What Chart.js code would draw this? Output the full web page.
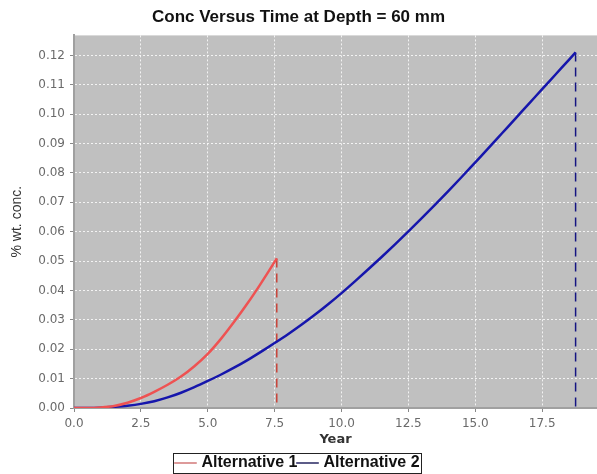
<!DOCTYPE html>
<html>
<head>
<meta charset="utf-8">
<script src="https://cdn.jsdelivr.net/npm/chart.js@4.4.1/dist/chart.umd.min.js"></script>
<style>
  html, body { margin: 0; padding: 0; background: #fff; }
</style>
</head>
<body>
<canvas id="myChart" width="597" height="474"></canvas>
<script>
// data block
const alt1Years = [0, 0.5, 1.0, 1.5, 2.0, 2.5, 3.0, 3.5, 4.0, 4.5, 5.0, 5.5, 6.0, 6.5, 7.0, 7.58];
const alt1Conc  = [0, 0, 0.0002, 0.0007, 0.0018, 0.0034, 0.0055, 0.0079, 0.0107, 0.0142, 0.0184, 0.0236, 0.0295, 0.0358, 0.0426, 0.0509];

const alt2Years = [0, 0.5, 1.0, 1.5, 2.0, 2.5, 3.0, 3.5, 4.0, 4.5, 5.0, 5.5, 6.0, 6.5, 7.0, 7.5, 8.0, 8.5, 9.0, 9.5,
                   10.0, 10.5, 11.0, 11.5, 12.0, 12.5, 13.0, 13.5, 14.0, 14.5, 15.0, 15.5, 16.0, 16.5, 17.0, 17.5, 18.0, 18.5, 18.75];
const alt2Conc  = [0, 0, 0.0001, 0.0004, 0.0008, 0.0014, 0.0023, 0.0036, 0.0052, 0.0071, 0.0092, 0.0114, 0.0138, 0.0164, 0.0192, 0.0221, 0.0251, 0.0283, 0.0317, 0.0353,
                   0.0391, 0.0431, 0.0472, 0.0514, 0.0557, 0.0601, 0.0646, 0.0692, 0.0739, 0.0787, 0.0836, 0.0885, 0.0935, 0.0985, 0.1035, 0.1085, 0.1135, 0.1185, 0.121];

const seriesNames = ['Alternative 1', 'Alternative 2'];
const xTickStep = 2.5;
const yTickStep = 0.01;

function toPoints(xs, ys) {
    return xs.map((x, i) => ({ x: x, y: ys[i] }));
}

// drop line from the last point of a series down to zero
function dropLine(xs, ys) {
    const last = xs.length - 1;
    return [{ x: xs[last], y: ys[last] }, { x: xs[last], y: 0 }];
}

const plotBackground = {
    id: 'plotBackground',
    beforeDraw(chart) {
        const { ctx, chartArea } = chart;
        ctx.save();
        ctx.fillStyle = '#c0c0c0';
        ctx.fillRect(chartArea.left, chartArea.top, chartArea.right - chartArea.left, chartArea.bottom - chartArea.top);
        ctx.restore();
    }
};

const legendBorder = {
    id: 'legendBorder',
    afterDraw(chart) {
        const boxes = chart.legend.legendHitBoxes;
        if (!boxes || !boxes.length) return;
        const left = Math.min(...boxes.map(b => b.left)) - 4;
        const right = Math.max(...boxes.map(b => b.left + b.width)) + 2;
        const top = Math.min(...boxes.map(b => b.top)) - 2;
        const bottom = Math.max(...boxes.map(b => b.top + b.height)) + 2;
        const ctx = chart.ctx;
        ctx.save();
        ctx.strokeStyle = '#222';
        ctx.lineWidth = 1;
        ctx.strokeRect(Math.round(left) + 0.5, Math.round(top) + 0.5, Math.round(right - left), Math.round(bottom - top));
        ctx.restore();
    }
};

const legendColors = ['#dd9a9a', '#5c5c88'];

const ctx = document.getElementById('myChart').getContext('2d');
const myChart = new Chart(ctx, {
    type: 'line',
    data: {
        datasets: [{
            label: seriesNames[0],
            data: toPoints(alt1Years, alt1Conc),
            borderColor: 'rgb(238, 82, 82)',
            borderWidth: 2.5,
            pointRadius: 0,
            cubicInterpolationMode: 'monotone'
        }, {
            label: seriesNames[1],
            data: toPoints(alt2Years, alt2Conc),
            borderColor: 'rgb(22, 22, 172)',
            borderWidth: 2.5,
            pointRadius: 0,
            cubicInterpolationMode: 'monotone'
        }, {
            label: 'drop1',
            data: dropLine(alt1Years, alt1Conc),
            borderColor: 'rgb(200, 70, 60)',
            borderWidth: 1.5,
            borderDash: [9, 6],
            pointRadius: 0
        }, {
            label: 'drop2',
            data: dropLine(alt2Years, alt2Conc),
            borderColor: 'rgb(20, 20, 130)',
            borderWidth: 1.5,
            borderDash: [9, 6],
            pointRadius: 0
        }]
    },
    options: {
        responsive: false,
        animation: false,
        parsing: false,
        layout: { padding: { left: 0, right: 0, top: 0, bottom: -7 } },
        plugins: {
            title: {
                display: true,
                text: 'Conc Versus Time at Depth = 60 mm',
                color: '#111',
                font: { family: 'Liberation Sans, Arial, sans-serif', size: 17, weight: 'bold' },
                padding: { top: 7, bottom: 8 }
            },
            legend: {
                position: 'bottom',
                labels: {
                    color: '#111',
                    font: { family: 'Liberation Sans Narrow, Liberation Sans, Arial, sans-serif', size: 16, weight: 'bold' },
                    usePointStyle: true,
                    pointStyle: 'line',
                    boxWidth: 16,
                    padding: 2,
                    filter: item => item.datasetIndex < 2,
                    generateLabels(chart) {
                        const items = Chart.defaults.plugins.legend.labels.generateLabels(chart);
                        items.forEach(it => {
                            if (it.datasetIndex < 2) {
                                it.strokeStyle = legendColors[it.datasetIndex];
                                it.lineWidth = 2;
                            }
                        });
                        return items;
                    }
                }
            },
            tooltip: { enabled: false }
        },
        scales: {
            x: {
                type: 'linear',
                min: 0,
                max: 19.55,
                afterFit(scale) { scale.height = 45; },
                title: {
                    display: true,
                    text: 'Year',
                    color: '#333',
                    font: { family: 'DejaVu Sans, sans-serif', size: 13, weight: 'bold' },
                    padding: { top: 0, bottom: 6 }
                },
                ticks: {
                    stepSize: xTickStep,
                    includeBounds: false,
                    maxRotation: 0,
                    color: '#6a6a6a',
                    font: { family: 'DejaVu Sans, sans-serif', size: 12 },
                    padding: 5,
                    callback: v => v.toFixed(1)
                },
                grid: {
                    color: 'rgba(255,255,255,0.8)',
                    lineWidth: 1,
                    tickLength: 4,
                    tickColor: '#888'
                },
                border: { display: true, color: '#a0a0a0', width: 2, dash: [2, 2] }
            },
            y: {
                type: 'linear',
                min: 0,
                max: 0.1268,
                afterFit(scale) { scale.width = 74; },
                title: {
                    display: true,
                    text: '% wt. conc.',
                    color: '#333',
                    font: { family: 'Liberation Sans, Arial, sans-serif', size: 14 },
                    padding: { top: 9, bottom: 0 }
                },
                ticks: {
                    stepSize: yTickStep,
                    includeBounds: false,
                    color: '#6a6a6a',
                    font: { family: 'DejaVu Sans, sans-serif', size: 12 },
                    padding: 5,
                    callback: v => v.toFixed(2)
                },
                grid: {
                    color: 'rgba(255,255,255,0.8)',
                    lineWidth: 1,
                    tickLength: 4,
                    tickColor: '#888'
                },
                border: { display: true, color: '#a0a0a0', width: 2, dash: [2, 2] }
            }
        }
    },
    plugins: [plotBackground, legendBorder]
});
</script>
</body>
</html>
